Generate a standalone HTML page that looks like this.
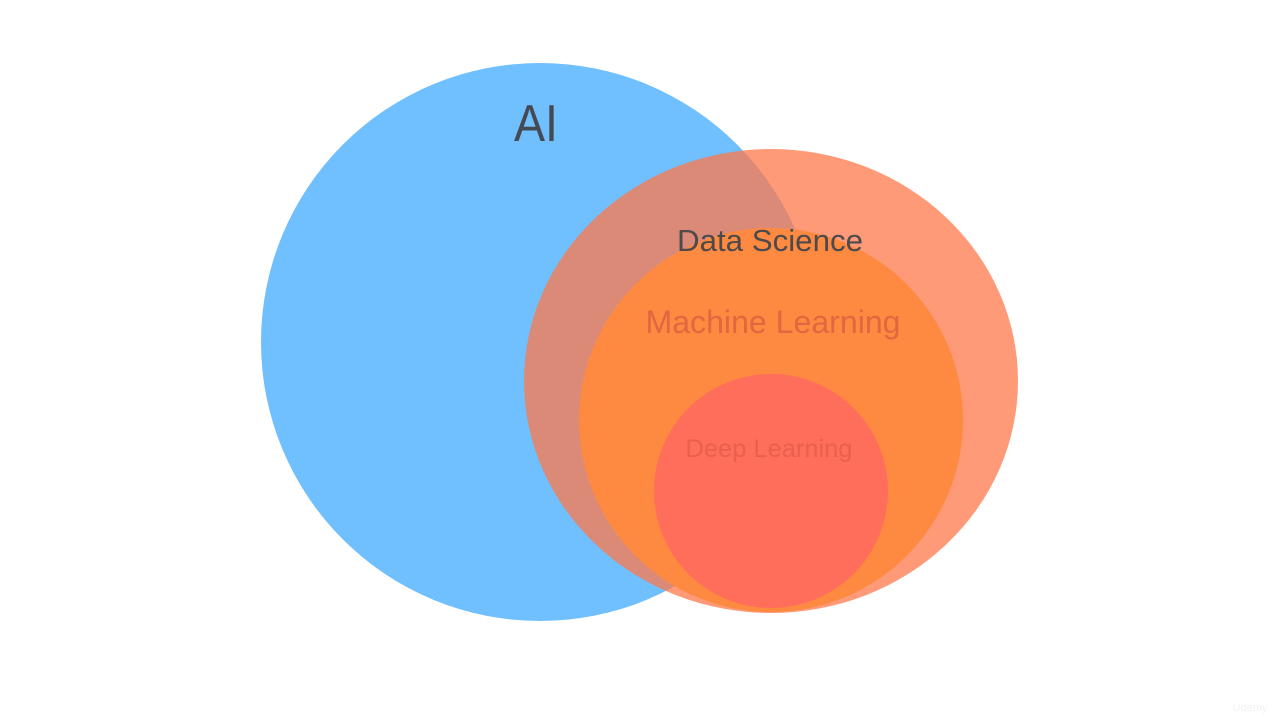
<!DOCTYPE html>
<html><head><meta charset="utf-8"><style>html,body{margin:0;padding:0;background:#fff;width:1280px;height:720px;overflow:hidden}</style></head>
<body>
<svg width="1280" height="720" viewBox="0 0 1280 720" xmlns="http://www.w3.org/2000/svg" font-family="Liberation Sans, sans-serif">
<rect width="1280" height="720" fill="#fff"/>
<circle cx="540" cy="342" r="279" fill="#70bfff"/>
<text x="536" y="141" font-size="52" fill="#454a52" text-anchor="middle" textLength="44" lengthAdjust="spacingAndGlyphs">AI</text>
<ellipse cx="771" cy="381" rx="247" ry="232" fill="#ff784b" fill-opacity="0.75"/>
<circle cx="771" cy="420" r="192" fill="#fd8a40"/>
<circle cx="771" cy="491" r="117" fill="#ff6d5b"/>
<text x="770" y="251" font-size="31" fill="#4d4a4c" text-anchor="middle" textLength="186" lengthAdjust="spacingAndGlyphs">Data Science</text>
<text x="773" y="333" font-size="32" fill="#e0673f" text-anchor="middle" textLength="255" lengthAdjust="spacingAndGlyphs">Machine Learning</text>
<text x="769" y="457" font-size="25" fill="#e9614e" text-anchor="middle" textLength="167" lengthAdjust="spacingAndGlyphs">Deep Learning</text>
<text x="1250" y="711" font-size="11" fill="#f2f2f2" text-anchor="middle">Udemy</text>
</svg>
</body></html>
